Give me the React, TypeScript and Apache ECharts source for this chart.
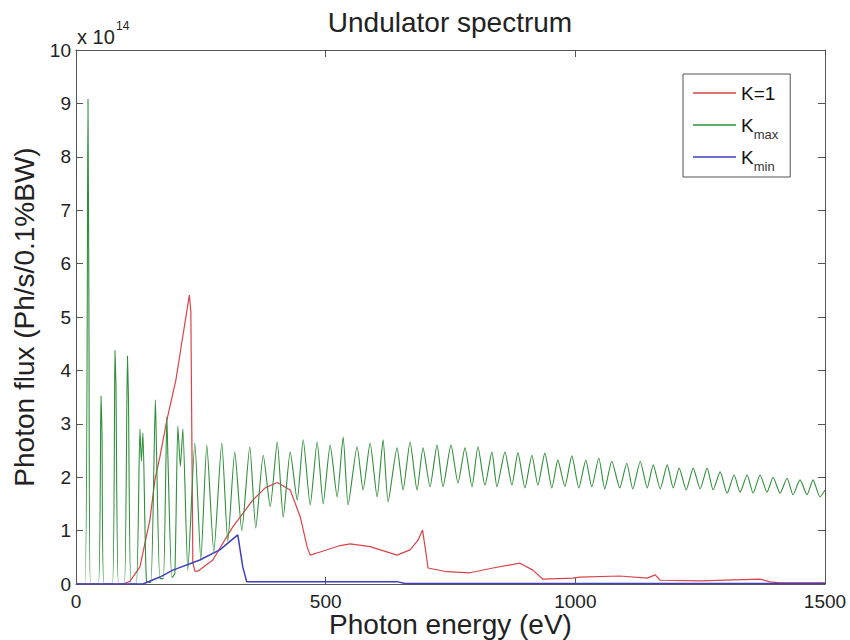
import React, { useEffect, useRef } from "react";
import * as echarts from "echarts";

const FONT = '"Liberation Sans", Arial, Helvetica, sans-serif';

// Photon energy (eV) vs photon flux in units of 1e14 Ph/s/0.1%BW
const k1Points: [number, number][] = [
  [0, 0], [94, 0], [108, 0.05], [128, 0.32], [148, 1.2], [158, 1.95], [168, 2.38],
  [182, 3.07], [200, 3.82], [227, 5.41], [230, 5.1], [234, 0.4], [238, 0.24], [244, 0.24],
  [274, 0.45], [314, 1.07], [354, 1.57], [379, 1.8], [403, 1.9], [429, 1.76], [449, 1.26],
  [463, 0.69], [469, 0.54], [489, 0.6], [529, 0.72], [549, 0.75], [589, 0.7], [643, 0.54],
  [669, 0.64], [685, 0.82], [694, 1.01], [699, 0.7], [705, 0.3], [743, 0.23], [789, 0.21],
  [835, 0.3], [889, 0.39], [915, 0.26], [935, 0.09], [995, 0.11], [1009, 0.13], [1089, 0.15],
  [1144, 0.11], [1160, 0.17], [1170, 0.07], [1250, 0.06], [1370, 0.09], [1390, 0.04],
  [1410, 0.02], [1500, 0.02],
];

const kmaxPoints: [number, number][] = [
  [0, 0], [18, 0], [24, 9.08], [26, 4.7], [29, 0],
  [45, 0], [50, 3.52], [52, 2.88], [56, 0],
  [73, 0], [78, 4.37], [80, 3.73], [85, 0],
  [97, 0], [103, 4.27], [105, 3.5], [110, 0],
  [121, 0], [128, 2.9], [131, 2.3], [134, 2.83], [141, 0.05],
  [150, 0.03], [159, 3.45], [161, 2.6], [168, 0.1],
  [175, 0.1], [182, 3.13], [184, 2.4], [192, 0.12],
  [198, 0.2], [204, 2.96], [209, 2.2], [214, 2.9], [224, 0.26],
  [238, 2.64], [250, 0.45], [262, 2.6], [276, 0.6], [292, 2.64], [304, 0.8],
  [318, 2.47], [332, 1.0], [348, 2.57], [360, 1.05], [375, 2.41], [389, 1.45],
  [403, 2.66], [415, 1.25], [429, 2.47], [443, 1.57], [455, 2.7], [469, 1.48],
  [483, 2.66], [495, 1.5], [509, 2.6], [523, 1.63], [535, 2.75], [545, 1.48],
  [563, 2.57], [575, 1.76], [589, 2.64], [603, 1.63], [615, 2.7], [625, 1.54],
  [643, 2.55], [655, 1.76], [669, 2.66], [683, 1.76], [695, 2.55], [709, 1.82],
  [723, 2.6], [735, 1.82], [751, 2.6], [765, 1.89], [779, 2.55], [793, 1.82],
  [805, 2.57], [819, 1.85], [833, 2.47], [843, 1.82], [859, 2.47], [873, 1.85],
  [885, 2.46], [899, 1.8], [913, 2.41], [925, 1.85], [939, 2.45], [953, 1.8],
  [965, 2.32], [979, 1.83], [993, 2.4], [1007, 1.8], [1021, 2.32], [1033, 1.82],
  [1047, 2.36], [1059, 1.78], [1073, 2.3], [1089, 1.8], [1103, 2.26], [1115, 1.78],
  [1130, 2.3], [1144, 1.8], [1156, 2.23], [1170, 1.78], [1184, 2.23], [1196, 1.8],
  [1208, 2.17], [1222, 1.76], [1236, 2.17], [1250, 1.78], [1264, 2.17], [1276, 1.76],
  [1290, 2.1], [1304, 1.7], [1318, 2.04], [1330, 1.72], [1344, 2.04], [1356, 1.7],
  [1370, 2.04], [1384, 1.72], [1396, 2.0], [1410, 1.7], [1424, 1.98], [1436, 1.67],
  [1450, 1.95], [1464, 1.67], [1476, 1.95], [1490, 1.63], [1500, 1.76],
];

const kminPoints: [number, number][] = [
  [0, 0], [134, 0], [168, 0.13], [194, 0.26], [248, 0.45], [288, 0.64], [324, 0.92],
  [334, 0.32], [342, 0.04], [449, 0.04], [645, 0.04], [659, 0.01], [1500, 0.01],
];

const seriesNames = ["K=1", "Kmax", "Kmin"];
const xTicks = { min: 0, max: 1500, interval: 500 };
const yTicks = { min: 0, max: 10, interval: 1 };

const AXIS_COLOR = "#555";
const TEXT_COLOR = "#222";

export default function App() {
  const ref = useRef<HTMLDivElement>(null);
  useEffect(() => {
    if (!ref.current) return;
    const chart = echarts.init(ref.current, null, { renderer: "svg" });
    const axisCommon = {
      axisLine: { show: true, onZero: false, lineStyle: { color: AXIS_COLOR, width: 1 } },
      axisTick: { show: true, inside: true, length: 7, lineStyle: { color: AXIS_COLOR, width: 1 } },
      splitLine: { show: false },
    };
    chart.setOption({
      animation: false,
      backgroundColor: "#fff",
      title: {
        text: "Undulator spectrum",
        left: 450,
        top: 8,
        textAlign: "center",
        padding: 0,
        textStyle: { fontSize: 28, fontWeight: "normal", color: TEXT_COLOR, fontFamily: FONT },
      },
      grid: { left: 76, right: 25, top: 50, bottom: 56, containLabel: false, outerBoundsMode: "none" },
      legend: {
        orient: "vertical",
        left: 683,
        top: 74,
        padding: [3, 12, 4, 10],
        itemGap: 0,
        itemWidth: 43,
        itemHeight: 1.5,
        icon: "rect",
        borderColor: AXIS_COLOR,
        borderWidth: 1,
        backgroundColor: "#fff",
        data: seriesNames,
        formatter: (n: string) =>
          n === "K=1" ? "{k|K=1}" : n === "Kmax" ? "{k|K}{s|max}" : "{k|K}{s|min}",
        textStyle: {
          color: "#111",
          fontFamily: FONT,
          fontSize: 19,
          lineHeight: 32,
          rich: {
            k: { fontSize: 19, lineHeight: 32, fontFamily: FONT, color: "#111" },
            s: { fontSize: 13, lineHeight: 13, verticalAlign: "bottom", fontFamily: FONT, color: "#333" },
          },
        },
      },
      graphic: [
        {
          type: "text",
          left: 77,
          top: 27,
          style: { text: "x 10", fontSize: 20, fill: TEXT_COLOR, fontFamily: FONT },
        },
        {
          type: "text",
          left: 116,
          top: 20,
          style: { text: "14", fontSize: 12, fill: TEXT_COLOR, fontFamily: FONT },
        },
      ],
      xAxis: [
        {
          type: "value",
          ...xTicks,
          position: "bottom",
          name: "Photon energy (eV)",
          nameLocation: "middle",
          nameGap: 26,
          nameMoveOverlap: false,
          nameTextStyle: { fontSize: 28, color: TEXT_COLOR, fontFamily: FONT },
          axisLabel: {
            fontSize: 19,
            color: TEXT_COLOR,
            margin: 8,
            fontFamily: FONT,
            formatter: (v: number) => String(v),
          },
          ...axisCommon,
        },
        {
          type: "value",
          ...xTicks,
          position: "top",
          axisLabel: { show: false },
          ...axisCommon,
        },
      ],
      yAxis: [
        {
          type: "value",
          ...yTicks,
          position: "left",
          name: "Photon flux (Ph/s/0.1%BW)",
          nameLocation: "middle",
          nameGap: 38,
          nameMoveOverlap: false,
          nameTextStyle: { fontSize: 28, color: TEXT_COLOR, fontFamily: FONT },
          axisLabel: {
            fontSize: 19,
            color: TEXT_COLOR,
            margin: 5,
            fontFamily: FONT,
            formatter: (v: number) => String(v),
          },
          ...axisCommon,
        },
        {
          type: "value",
          ...yTicks,
          position: "right",
          axisLabel: { show: false },
          ...axisCommon,
        },
      ],
      series: [
        {
          name: "K=1",
          type: "line",
          data: k1Points,
          symbol: "none",
          lineStyle: { color: "#d9434a", width: 1.2 },
          itemStyle: { color: "#d9434a" },
        },
        {
          name: "Kmax",
          type: "line",
          data: kmaxPoints,
          symbol: "none",
          smooth: 0.2,
          lineStyle: { color: "#2f8f3a", width: 1.1 },
          itemStyle: { color: "#2f8f3a" },
        },
        {
          name: "Kmin",
          type: "line",
          data: kminPoints,
          symbol: "none",
          lineStyle: { color: "#3f3fbf", width: 1.5 },
          itemStyle: { color: "#3f3fbf" },
        },
      ],
    });
    return () => chart.dispose();
  }, []);
  return (
    <div
      ref={ref}
      style={{ position: "fixed", left: 0, top: 0, width: 850, height: 640, background: "#fff" }}
    />
  );
}
